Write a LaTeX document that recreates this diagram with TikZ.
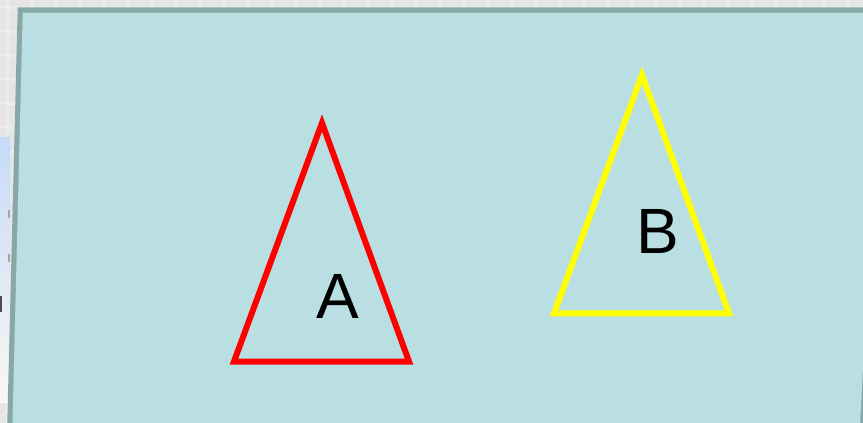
\documentclass[tikz,border=0pt]{standalone}
\usepackage{fontspec}
\setmainfont{Liberation Sans}
\definecolor{bggray}{HTML}{E5E5E5}
\definecolor{gridline}{HTML}{ECECEC}
\definecolor{panelfill}{HTML}{B9DFE2}
\definecolor{panelborder}{HTML}{88A8A8}
\definecolor{striptop}{HTML}{C6DAF8}
\definecolor{stripbot}{HTML}{F8F8F2}
\definecolor{triyellow}{HTML}{FFFF00}
\definecolor{trired}{HTML}{FF0000}
\tikzset{
  tri/.style={line width=6pt, line join=miter, miter limit=10},
  lbl/.style={inner sep=0pt, font=\fontsize{64}{64}\selectfont, text=black}
}
\begin{document}
\begin{tikzpicture}[x=1pt,y=-1pt]
\useasboundingbox (0,0) rectangle (863,423);
\clip (0,0) rectangle (863,423);
% background
\fill[bggray] (0,0) rectangle (863,423);
\foreach \gx in {6,30,54,78,102,126,150,174,198,222,246,270,294,318,342,366,390,414,438,462,486,510,534,558,582,606,630,654,678,702,726,750,774,798,822,846}
  \fill[gridline] (\gx,0) rectangle ++(3,423);
\foreach \gy in {6,30,54,78,102,126,150,174,198,222,246,270,294,318,342,366,390,414}
  \fill[gridline] (0,\gy) rectangle ++(863,3);
% left strip (fragment of another window)
\shade[top color=striptop, bottom color=stripbot] (0,137) rectangle (10,402);
\fill[black!70] (0,296) rectangle (2,312);
\fill[gray!70] (8,210) rectangle (9.5,218);
\fill[gray!70] (8,254) rectangle (9.5,262);
% panel
\fill[panelborder] (17.7,7.3) -- (884,7.3) -- (862.8,430) -- (7.1,430) -- cycle;
\fill[panelfill] (22.7,12.7) -- (881,12.7) -- (859.8,430) -- (12.3,430) -- cycle;
% triangles
\coordinate (ra) at (322,123);
\coordinate (rl) at (234,361.5);
\coordinate (rr) at (409,361.5);
\draw[tri, draw=trired] (ra) -- (rl) -- (rr) -- cycle;
\coordinate (ya) at (642,75);
\coordinate (yl) at (554,313.3);
\coordinate (yr) at (729,313.3);
\draw[tri, draw=triyellow] (ya) -- (yl) -- (yr) -- cycle;
% labels
\node[lbl] (la) at (337.5,296.5) {A};
\node[lbl] (lb) at (658,231.7) {B};
\end{tikzpicture}
\end{document}
